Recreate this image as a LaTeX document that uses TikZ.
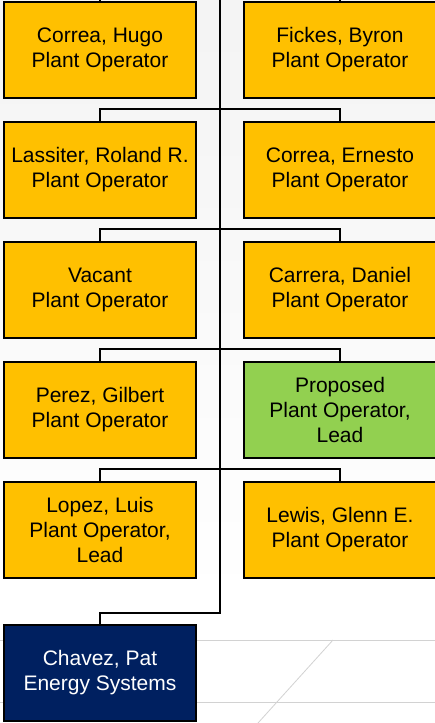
\documentclass[tikz,border=0pt]{standalone}
\usepackage{fontspec}
\setmainfont{Liberation Sans}
\usetikzlibrary{positioning}
\definecolor{opfill}{HTML}{FFC000}
\definecolor{newfill}{HTML}{92D050}
\definecolor{mgrfill}{HTML}{002060}

\begin{document}
\begin{tikzpicture}[x=1pt, y=1pt, node distance=120pt,
    every node/.style={draw, rectangle, line width=1.6pt, minimum width=192pt, minimum height=96pt, align=center, inner sep=0pt, fill=opfill, font=\fontsize{21}{25}\selectfont},
    link/.style={line width=1.6pt}]
    \useasboundingbox (0,0) rectangle (435,-723);
    % page background with faint guide lines
    \shade [top color=gray!9, bottom color=white] (0,0) rectangle (435,-600);
    \fill [white] (0,-600) rectangle (435,-723);
    \draw [gray!35, line width=1pt] (0,-640) -- (435,-640);
    \draw [gray!35, line width=1pt] (0,-702) -- (435,-702);
    \draw [gray!35, line width=0.8pt] (333,-640) -- (258,-723);

    \node (hugo) at (100,-50) {Correa, Hugo\\Plant Operator};
    \node [right of=hugo, node distance=240pt] (byron) {Fickes, Byron\\Plant Operator};
    \node [below of=hugo] (roland) {Lassiter, Roland R.\\Plant Operator};
    \node [right of=roland, node distance=240pt] (ernesto) {Correa, Ernesto\\Plant Operator};
    \node [below of=roland] (vacant) {Vacant\\Plant Operator};
    \node [right of=vacant, node distance=240pt] (daniel) {Carrera, Daniel\\Plant Operator};
    \node [below of=vacant] (gilbert) {Perez, Gilbert\\Plant Operator};
    \node [right of=gilbert, node distance=240pt, fill=newfill] (proposed) {Proposed\\Plant Operator,\\Lead};
    \node [below of=gilbert] (luis) {Lopez, Luis\\Plant Operator,\\Lead};
    \node [right of=luis, node distance=240pt] (glenn) {Lewis, Glenn E.\\Plant Operator};
    \node [below of=luis, node distance=143pt, fill=mgrfill, text=white] (pat) {Chavez, Pat\\Energy Systems};

    \coordinate (trunktop) at (220,0);

    \draw [link] (hugo.north) -- ++(0,2) -| (byron.north);
    \draw [link] (roland.north) -- ++(0,12) -| (ernesto.north);
    \draw [link] (vacant.north) -- ++(0,12) -| (daniel.north);
    \draw [link] (gilbert.north) -- ++(0,12) -| (proposed.north);
    \draw [link] (luis.north) -- ++(0,12) -| (glenn.north);
    \draw [link] (trunktop) -- ++(0,-613) -| (pat.north);
\end{tikzpicture}
\end{document}
